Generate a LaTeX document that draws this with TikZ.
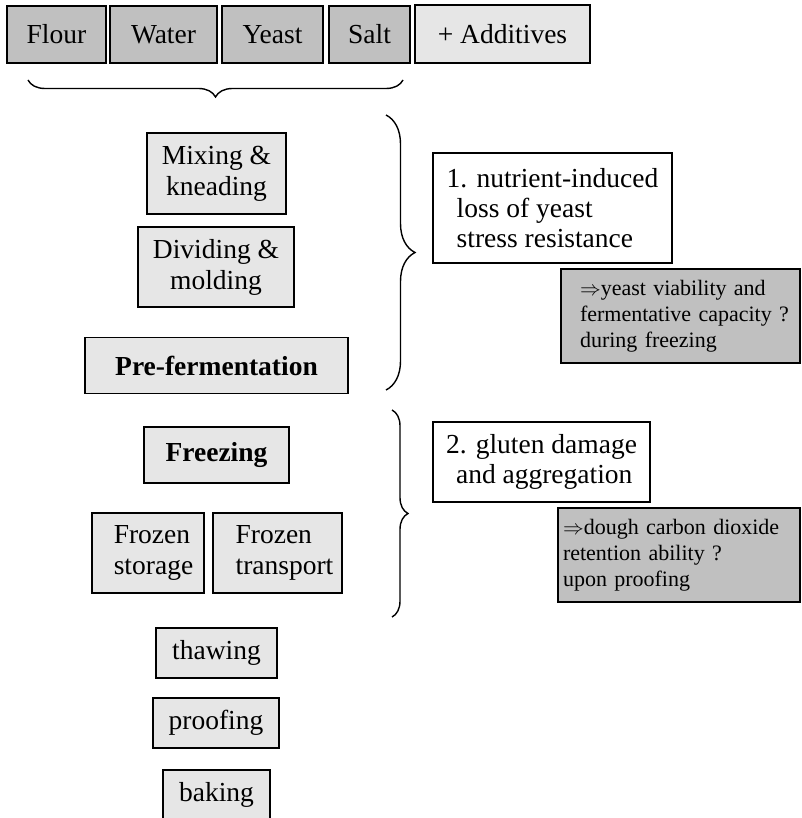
\documentclass[tikz,border=0pt]{standalone}
\usepackage{fontspec}
\setmainfont{Liberation Serif}
\usetikzlibrary{decorations.pathreplacing}
\definecolor{darkfill}{HTML}{C0C0C0}
\definecolor{lightfill}{HTML}{E6E6E6}
\begin{document}
\begin{tikzpicture}[x=1pt,y=-1pt,
  wh/.style 2 args={minimum width=#1, minimum height=#2},
  box/.style={draw=black, line width=1.8pt, inner sep=0pt, align=center,
    font=\fontsize{27.5}{30}\selectfont},
  ingr/.style={box, fill=darkfill},
  stepbox/.style={box, fill=lightfill, font=\fontsize{27.5}{31}\selectfont},
  boldtext/.style={font=\fontsize{27.5}{30}\selectfont\bfseries},
  cause/.style={box, fill=white, align=left},
  effect/.style={draw=black, line width=1.8pt, fill=darkfill, align=left,
    inner xsep=5pt, inner ysep=0pt, font=\fontsize{22}{26}\selectfont},
  curly/.style={decorate, line width=1.4pt, decoration={brace, amplitude=#1}}
]
\useasboundingbox (0,0) rectangle (801,818);

% ingredients
\node[ingr, wh={99}{57}]  (flour) at (56.5,34.5)  {Flour};
\node[ingr, wh={107}{57}] (water) at (163.5,34.5) {Water};
\node[ingr, wh={101}{57}] (yeast) at (272.5,34.5) {Yeast};
\node[ingr, wh={81}{57}]  (salt)  at (369.5,34.5) {Salt};
\node[stepbox, wh={175}{58}] (add) at (502.5,34) {+ Additives};

% process steps
\node[stepbox, wh={139}{81}] (mix) at (216.5,173.5) {Mixing \&\\kneading};
\node[stepbox, wh={156}{80}] (div) at (216,267) {Dividing \&\\molding};
\node[stepbox, boldtext, wh={263}{56}] (pre) at (216.5,365.5) {Pre-fermentation};
\node[stepbox, boldtext, wh={145}{56}] (freeze) at (216.5,455) {Freezing};
\node[stepbox, align=left, wh={112}{80}] (store) at (148,553)
  {\hspace*{11pt}Frozen\\\hspace*{11pt}storage};
\node[stepbox, align=left, wh={129}{80}] (trans) at (277.5,553)
  {\hspace*{14pt}Frozen\\\hspace*{14pt}transport};
\node[stepbox, wh={121}{50}] (thaw) at (216.5,653) {thawing};
\node[stepbox, wh={126}{50}] (proof) at (216,723) {proofing};
\node[stepbox, wh={107}{50}] (bake) at (216.5,795) {baking};

% causes and effects
\node[cause, wh={239}{110}] (c1) at (552.5,208)
  {1. nutrient-induced\\\hspace*{10pt}loss of yeast\\\hspace*{10pt}stress resistance};
\node[effect, text width=229pt, minimum height=94pt] (e1) at (680.5,316)
  {\hspace*{14pt}$\Rightarrow$yeast viability and\\\hspace*{14pt}fermentative capacity ?\\\hspace*{14pt}during freezing};
\node[cause, wh={217}{80}] (c2) at (541.5,462)
  {2. gluten damage\\\hspace*{10pt}and aggregation};
\node[effect, text width=232pt, minimum height=94pt] (e2) at (679,555)
  {$\Rightarrow$dough carbon dioxide\\retention ability ?\\upon proofing};

% braces
\draw[curly=17pt, decoration={mirror}] (28,80) -- (403,80);
\draw[curly=29pt] (386,115) -- (386,390);
\draw[curly=16pt] (392,410) -- (392,617);
\end{tikzpicture}
\end{document}
